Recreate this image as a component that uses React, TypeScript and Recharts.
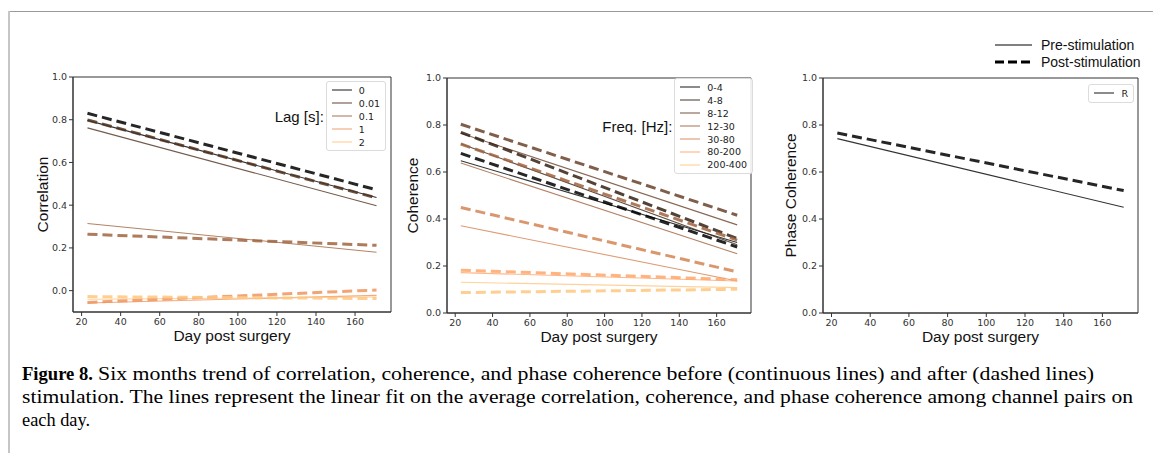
import React from 'react';
import { LineChart, Line, XAxis, YAxis, Legend, ReferenceArea } from 'recharts';

// shared x values (first and last recording day of the linear fits)
const DAYS = [23, 171];
const X_TICKS = [20, 40, 60, 80, 100, 120, 140, 160];
const X_DOMAIN = [15.6, 178.4];
const Y_TICKS = [0, 0.2, 0.4, 0.6, 0.8, 1.0];

// panel 1: correlation per lag
const LAG_LABELS = ['0', '0.01', '0.1', '1', '2'];
const LAG_COLORS = ['#000000', '#503220', '#a0643f', '#ef955f', '#ffc77f'];
const LAG_PRE = [[0.797, 0.436], [0.762, 0.397], [0.314, 0.18], [-0.058, -0.022], [-0.04, -0.03]];
const LAG_POST = [[0.83, 0.472], [0.799, 0.434], [0.264, 0.212], [-0.055, 0.003], [-0.028, -0.037]];

// panel 2: coherence per frequency band
const FREQ_LABELS = ['0-4', '4-8', '8-12', '12-30', '30-80', '80-200', '200-400'];
const FREQ_COLORS = ['#000000', '#352115', '#6a422a', '#a0633f', '#d48554', '#ffa66a', '#ffc77f'];
const FREQ_PRE = [[0.648, 0.3], [0.72, 0.29], [0.765, 0.375], [0.638, 0.252], [0.371, 0.136], [0.172, 0.136], [0.131, 0.108]];
const FREQ_POST = [[0.679, 0.281], [0.769, 0.317], [0.803, 0.416], [0.719, 0.31], [0.449, 0.175], [0.182, 0.142], [0.087, 0.101]];

// panel 3: phase coherence
const PHASE_LABELS = ['R'];
const PHASE_COLORS = ['#000000'];
const PHASE_PRE = [[0.742, 0.45]];
const PHASE_POST = [[0.766, 0.521]];

const CAPTION = [
  'Six months trend of correlation, coherence, and phase coherence before (continuous lines) and after (dashed lines)',
  'stimulation. The lines represent the linear fit on the average correlation, coherence, and phase coherence among channel pairs on',
  'each day.',
];

const SANS = 'Liberation Sans, Arial, sans-serif';
const SERIF = 'Liberation Serif, serif';
const TICK_FONT = 'DejaVu Sans, sans-serif';
const AXIS = '#333333';

const toPoints = (vals: number[]) => DAYS.map((d, i) => ({ day: d, v: vals[i] }));

// matplotlib-ish legend box (only the continuous lines) with optional title on the left
const LegendBox = ({ labels, colors, title }: { labels: string[]; colors: string[]; title?: string }) => (
  <div style={{ display: 'flex', alignItems: 'center' }}>
    {title && (
      <span style={{ fontFamily: SANS, fontSize: 15, color: '#111', marginRight: 2 }}>{title}</span>
    )}
    <div
      style={{
        border: '1px solid #dcdcdc',
        borderRadius: 3,
        padding: '2px 5px 2px 5px',
        background: 'rgba(255,255,255,0.85)',
      }}
    >
      {labels.map((name, i) => (
        <div key={name} style={{ display: 'flex', alignItems: 'center', height: 12.9 }}>
          <svg width={20} height={4}>
            <line x1={0} y1={2} x2={20} y2={2} stroke={colors[i]} strokeOpacity={0.7} strokeWidth={1.3} />
          </svg>
          <span style={{ fontFamily: TICK_FONT, fontSize: 9.5, color: '#222', marginLeft: 7 }}>{name}</span>
        </div>
      ))}
    </div>
  </div>
);

function Panel({
  left, top, plotW, plotH, yMin, yLabel, labelDx, labels, colors, pre, post, legendTitle, legendTop, legendRight,
}: {
  left: number; top: number; plotW: number; plotH: number; yMin: number; yLabel: string; labelDx: number;
  labels: string[]; colors: string[]; pre: number[][]; post: number[][];
  legendTitle?: string; legendTop: number; legendRight: number;
}) {
  const width = 60 + plotW + 6;
  const height = 5 + plotH + 40;
  return (
    <div style={{ position: 'absolute', left, top }}>
      <LineChart width={width} height={height} margin={{ top: 5, right: 6, left: 0, bottom: 0 }}>
        <XAxis
          type="number"
          dataKey="day"
          domain={X_DOMAIN}
          ticks={X_TICKS}
          height={40}
          tickSize={4}
          tickMargin={2}
          tick={{ fontSize: 9.5, fill: AXIS, fontFamily: TICK_FONT }}
          stroke={AXIS}
          label={{ value: 'Day post surgery', position: 'center', dy: 3, style: { fontFamily: SANS, fontSize: 15.5, fill: '#111' } }}
        />
        <YAxis
          type="number"
          domain={[yMin, 1]}
          ticks={Y_TICKS}
          width={60}
          tickSize={4}
          tickMargin={2}
          allowDataOverflow
          tickFormatter={(v: number) => v.toFixed(1)}
          tick={{ fontSize: 9.5, fill: AXIS, fontFamily: TICK_FONT }}
          stroke={AXIS}
          label={{ value: yLabel, angle: -90, position: 'center', dx: labelDx, style: { fontFamily: SANS, fontSize: 15.5, fill: '#111' } }}
        />
        <ReferenceArea x1={X_DOMAIN[0]} x2={X_DOMAIN[1]} y1={yMin} y2={1} fill="none" stroke={AXIS} strokeWidth={1} />
        {labels.map((name, i) => (
          <Line
            key={'pre-' + name}
            data={toPoints(pre[i])}
            dataKey="v"
            name={name}
            stroke={colors[i]}
            strokeOpacity={0.8}
            strokeWidth={1.1}
            dot={false}
            isAnimationActive={false}
          />
        ))}
        {labels.map((name, i) => (
          <Line
            key={'post-' + name}
            data={toPoints(post[i])}
            dataKey="v"
            name={name + ' post'}
            legendType="none"
            stroke={colors[i]}
            strokeOpacity={0.85}
            strokeWidth={3}
            strokeDasharray="10 5"
            dot={false}
            isAnimationActive={false}
          />
        ))}
        <Legend
          layout="vertical"
          align="center"
          verticalAlign="middle"
          wrapperStyle={{ position: 'absolute', top: legendTop, right: legendRight, left: 'auto', bottom: 'auto', width: 'auto' }}
          content={() => <LegendBox labels={labels} colors={colors} title={legendTitle} />}
        />
      </LineChart>
    </div>
  );
}

export default function App() {
  return (
    <div style={{ position: 'absolute', left: 0, top: 0, width: 1153, height: 453, background: '#fff', overflow: 'hidden' }}>
      <svg width={1153} height={453} style={{ position: 'absolute', left: 0, top: 0 }}>
        <line x1={8} y1={11.5} x2={1153} y2={11.5} stroke="#9a9a9a" strokeWidth={1} />
        <line x1={9} y1={11} x2={9} y2={453} stroke="#c6c6c6" strokeWidth={2} />
        <text x={22} y={380} fontFamily={SERIF} fontSize={19} fontWeight="bold" textLength={71} lengthAdjust="spacingAndGlyphs">
          Figure 8.
        </text>
        <text x={98} y={380} fontFamily={SERIF} fontSize={19} textLength={996} lengthAdjust="spacingAndGlyphs">
          {CAPTION[0]}
        </text>
        <text x={22} y={403} fontFamily={SERIF} fontSize={19} textLength={1111} lengthAdjust="spacingAndGlyphs">
          {CAPTION[1]}
        </text>
        <text x={22} y={426} fontFamily={SERIF} fontSize={19} textLength={68} lengthAdjust="spacingAndGlyphs">
          {CAPTION[2]}
        </text>
        {/* figure level legend */}
        <line x1={995} y1={45} x2={1032} y2={45} stroke="#000" strokeWidth={1} />
        <line x1={995} y1={62} x2={1032} y2={62} stroke="#000" strokeWidth={3} strokeDasharray="9 4" />
        <text x={1041} y={50} fontFamily={SANS} fontSize={14} fill="#111">Pre-stimulation</text>
        <text x={1041} y={67} fontFamily={SANS} fontSize={14} fill="#111">Post-stimulation</text>
      </svg>
      <Panel
        left={13} top={72} plotW={318} plotH={235} yMin={-0.1} yLabel="Correlation" labelDx={-1}
        labels={LAG_LABELS} colors={LAG_COLORS} pre={LAG_PRE} post={LAG_POST}
        legendTitle="Lag [s]:" legendTop={9} legendRight={11}
      />
      <Panel
        left={387} top={73} plotW={304} plotH={235} yMin={0} yLabel="Coherence" labelDx={-5}
        labels={FREQ_LABELS} colors={FREQ_COLORS} pre={FREQ_PRE} post={FREQ_POST}
        legendTitle="Freq. [Hz]:" legendTop={5} legendRight={4}
      />
      <Panel
        left={763} top={73} plotW={315} plotH={235} yMin={0} yLabel="Phase Coherence" labelDx={-3}
        labels={PHASE_LABELS} colors={PHASE_COLORS} pre={PHASE_PRE} post={PHASE_POST}
        legendTop={11} legendRight={10}
      />
    </div>
  );
}
